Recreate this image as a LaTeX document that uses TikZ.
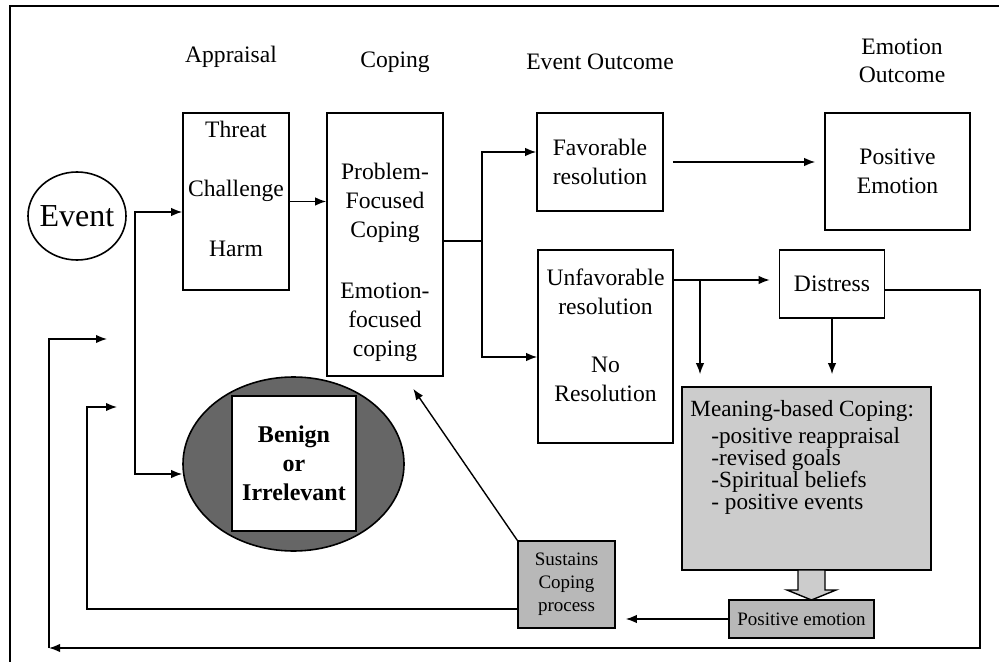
\documentclass[tikz,border=0pt]{standalone}
\usepackage{fontspec}
\setmainfont{Liberation Serif}
\usetikzlibrary{shapes.geometric, arrows.meta}
\newcommand{\indentitem}{\hskip10.5pt\relax}

\begin{document}
\begin{tikzpicture}[x=0.5pt, y=-0.5pt,
    box/.style={draw, line width=0.8pt, inner sep=0pt, align=center, font=\fontsize{11.8}{14.5}\selectfont},
    txt/.style={inner sep=0pt, align=center, font=\fontsize{11.8}{14.5}\selectfont},
    small/.style={box, fill=black!28, font=\fontsize{9.5}{11.5}\selectfont},
    n/.style={-{Latex[length=5.5pt, width=4.2pt]}, line width=0.7pt},
    nn/.style={{Latex[length=5.5pt, width=4.2pt]}-{Latex[length=5.5pt, width=4.2pt]}, line width=0.7pt},
    ln/.style={line width=0.7pt}]
    \useasboundingbox (0,0) rectangle (999,662);
    % frame
    \draw[line width=1pt] (999,6) -- (10,6) -- (10,662);
    % headings
    \node[txt] (hAppraisal) at (231,57) {Appraisal};
    \node[txt] (hCoping) at (395,62) {Coping};
    \node[txt] (hOutcome) at (600,62) {Event Outcome};
    \node[txt, font=\fontsize{11.8}{14}\selectfont] (hEmotion) at (902,61) {Emotion\\Outcome};
    % nodes
    \node[draw, ellipse, line width=0.8pt, inner sep=0pt, minimum width=49pt, minimum height=44pt, font=\fontsize{16}{18}\selectfont] (event) at (77,216) {\makebox[34pt]{Event}};
    \node[box, minimum width=53pt, minimum height=88.5pt] (appraisal) at (236,201.5) {};
    \node[txt] (appraisaltxt) at (236,188.5) {Threat\\[15.25pt]Challenge\\[15.25pt]Harm};
    \node[box, minimum width=58pt, minimum height=131.5pt] (coping) at (385,244.5) {};
    \node[txt] (copingtxt) at (385,262.5) {Problem-\\Focused\\Coping\\[16pt]Emotion-\\focused\\coping};
    \node[box, minimum width=63pt, minimum height=49pt] (favorable) at (600,162) {Favorable\\resolution};
    \node[box, minimum width=72.5pt, minimum height=58.5pt] (posemo) at (897.5,171.5) {Positive\\Emotion};
    \node[box, minimum width=67.5pt, minimum height=96.5pt] (unfav) at (605.5,346.5) {};
    \node[txt] (unfavtxt) at (605.5,335) {Unfavorable\\resolution\\[14.5pt]No\\Resolution};
    \node[box, minimum width=52.5pt, minimum height=34pt] (distress) at (832,284) {Distress};
    \node[box, fill=black!20, minimum width=124.5pt, minimum height=91.5pt] (meaning) at (806.5,478.5) {};
    \node[txt, align=left, anchor=north west, font=\fontsize{11.6}{10.2}\selectfont] (meaningtxt) at (690,400) {Meaning-based Coping:\\[1.8pt]\indentitem-positive reappraisal\\[-0.4pt]\indentitem-revised goals\\[-0.4pt]\indentitem-Spiritual beliefs\\[0.8pt]\indentitem- positive events};
    \node[small, minimum width=72.5pt, minimum height=19pt] (positive) at (801.5,619) {Positive emotion};
    \node[small, minimum width=48.5pt, minimum height=43.5pt] (sustains) at (566.5,584.5) {Sustains\\Coping\\process};
    \node[draw, ellipse, line width=0.8pt, fill=black!60, minimum width=110.5pt, minimum height=87pt] (benign) at (293.5,464) {};
    \node[box, fill=white, minimum width=62pt, minimum height=67.5pt, font=\fontsize{12}{14.5}\selectfont\bfseries] (benignbox) at (294,463.5) {Benign\\or\\Irrelevant};
    % coordinates
    \coordinate (forkT) at (135,212);
    \coordinate (forkB) at (135,474);
    \coordinate (split) at (482,241);
    \coordinate (branch) at (700,280);
    \coordinate (loopCorner) at (49,648);
    \coordinate (loopIn) at (107,339);
    \coordinate (sustainsIn) at (117,407);
    % edges
    \draw[nn] (appraisal.west |- forkT) -- (forkT) -- (forkB) -- (benign.west |- forkB);
    \draw[n] (appraisal.east) -- (coping.west |- appraisal.east);
    \draw[ln] (coping.east |- split) -- (split);
    \draw[n] (split) |- (favorable.west |- 0,152);
    \draw[n] (split) |- (unfav.west |- 0,357);
    \draw[n, shorten <=4.5pt, shorten >=4.5pt] (favorable.east) -- (posemo.west |- favorable.east);
    \draw[n, shorten >=4.5pt] (unfav.east |- branch) -- (distress.west |- branch);
    \draw[n, shorten >=6pt] (branch) -- (branch |- meaning.north);
    \draw[n, shorten >=6pt] (distress.south) -- (distress.south |- meaning.north);
    \filldraw[fill=black!20, line width=0.7pt] (798,570) -- (798,590) -- (787,590) -- (811.5,600) -- (836,590) -- (825,590) -- (825,570) -- cycle;
    \draw[n, shorten >=5pt] (positive.west) -- (sustains.east |- positive.west);
    \draw[n, shorten >=7.3pt] (sustains.north west) -- (coping.south -| 405,0);
    \draw[n] (sustains.west |- 0,609) -| ([xshift=-15pt]sustainsIn) -- (sustainsIn);
    \draw[n] (distress.east |- 0,290) -| (980,648) -- (loopCorner);
    \draw[n] (loopCorner) |- (loopIn);
\end{tikzpicture}
\end{document}
